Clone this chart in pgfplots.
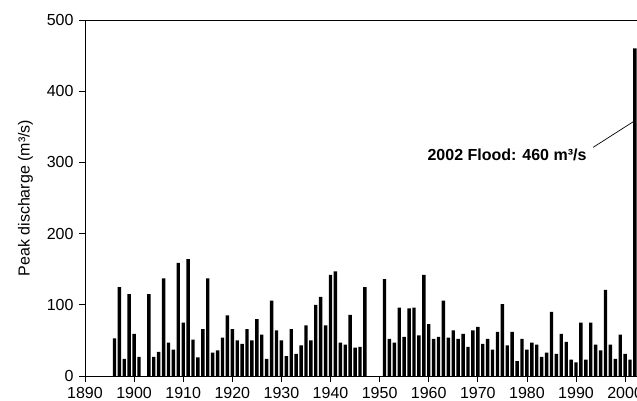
\documentclass[border=0pt]{standalone}
\usepackage{fontspec}
\setmainfont{Liberation Sans}
\usepackage{pgfplots}
\pgfplotsset{compat=1.18}

\pgfplotstableread{
year val
1896 53
1897 125
1898 24
1899 115
1900 59
1901 27
1903 115
1904 27
1905 34
1906 137
1907 47
1908 37
1909 159
1910 75
1911 164
1912 51
1913 26
1914 66
1915 137
1916 33
1917 36
1918 54
1919 85
1920 66
1921 50
1922 45
1923 66
1924 50
1925 80
1926 58
1927 24
1928 106
1929 64
1930 50
1931 28
1932 66
1933 31
1934 43
1935 71
1936 50
1937 100
1938 111
1939 71
1940 142
1941 147
1942 47
1943 44
1944 86
1945 40
1946 41
1947 125
1951 136
1952 52
1953 47
1954 96
1955 55
1956 95
1957 96
1958 57
1959 142
1960 73
1961 52
1962 55
1963 106
1964 54
1965 64
1966 52
1967 59
1968 41
1969 64
1970 69
1971 45
1972 52
1973 37
1974 62
1975 101
1976 43
1977 62
1978 21
1979 52
1980 37
1981 47
1982 44
1983 27
1984 33
1985 90
1986 31
1987 59
1988 48
1989 23
1990 19
1991 75
1992 23
1993 75
1994 44
1995 36
1996 121
1997 44
1998 24
1999 58
2000 31
2001 23
2002 460
}\peakdata

\begin{document}
\fontsize{16bp}{19bp}\selectfont
\begin{tikzpicture}
\useasboundingbox (0,0) rectangle (637bp,401bp);
\begin{axis}[
  at={(85bp,25bp)}, anchor=south west,
  scale only axis, width=552bp, height=356bp,
  xmin=1890, xmax=2002.42, ymin=0, ymax=500,
  axis lines=left, axis line style={-, line width=0.8bp, black},
  xtick={1890,1900,...,2000}, ytick={0,100,...,500},
  tick align=outside, major tick length=6bp,
  tick style={line width=0.8bp, black},
  /pgf/number format/1000 sep={},
  /pgf/number format/assume math mode=true,
  tick label style={font=\fontsize{16bp}{19bp}\selectfont},
  ylabel={Peak discharge (m³/s)},
  ylabel style={at={(axis description cs:-0.108,0.5)}, anchor=center, font=\fontsize{16bp}{19bp}\selectfont},
  clip=true,
]
\addplot[ybar, bar width=3.4bp, fill=black, draw=none] table[x=year, y=val] {\peakdata};
\draw[line width=0.8bp, black] (rel axis cs:0,1) -- (rel axis cs:1,1);
\node[font=\fontsize{16bp}{19bp}\selectfont\bfseries] at (axis cs:1975.95,310.4) {2002 Flood: 460 m³/s};
\draw[line width=0.7bp, black] (axis cs:1993.5,321.2) -- (axis cs:2001.67,357.2);
\end{axis}
\end{tikzpicture}
\end{document}
